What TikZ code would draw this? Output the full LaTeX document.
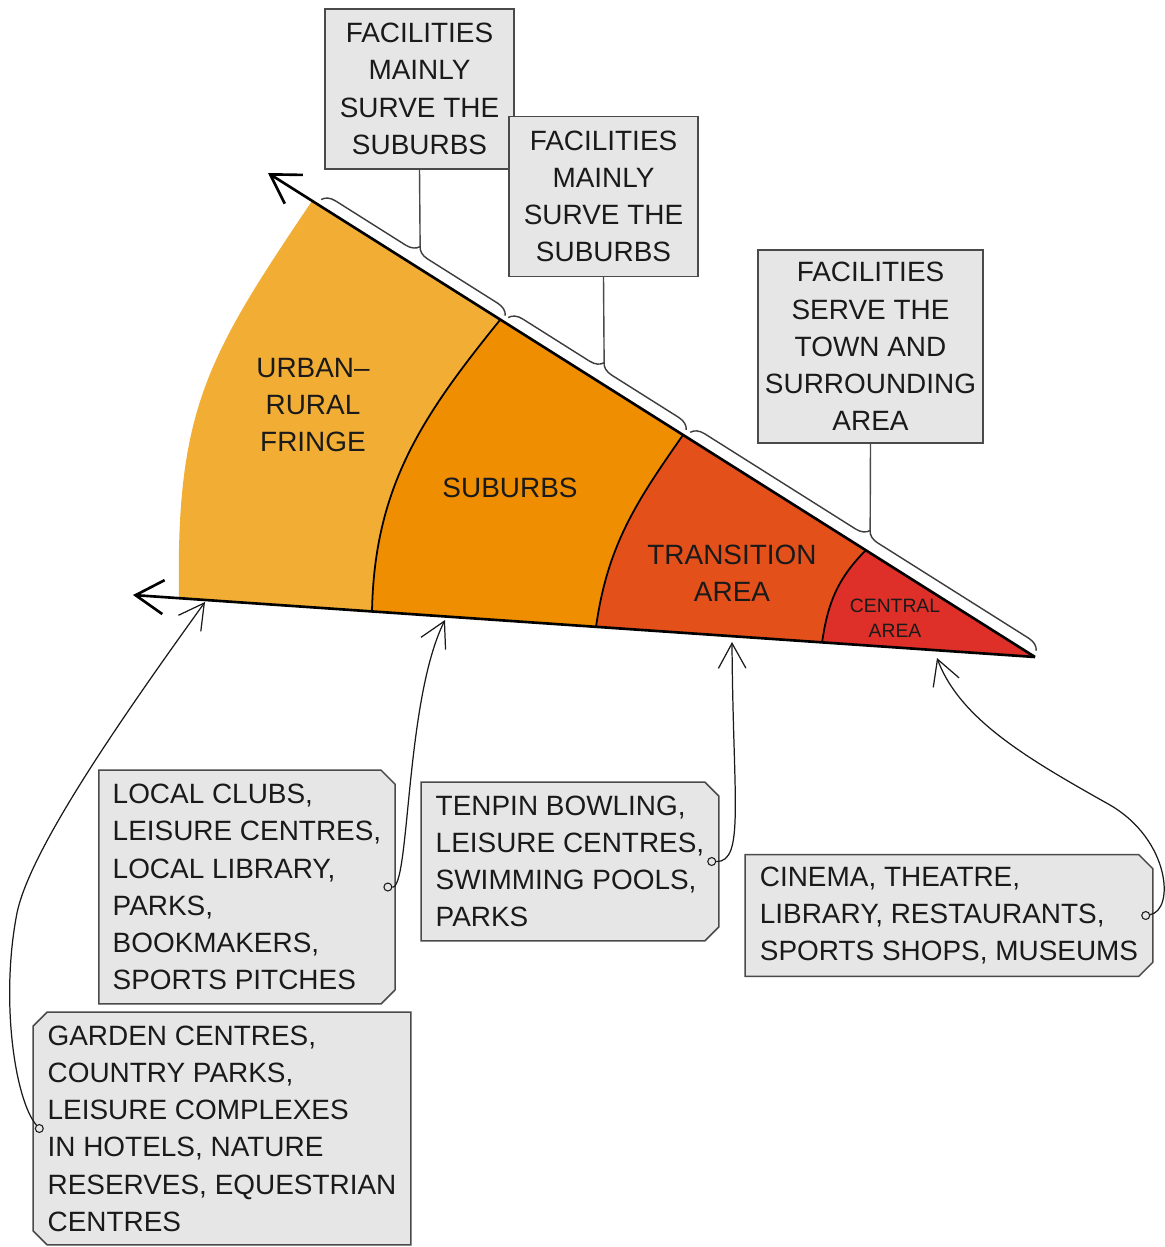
\documentclass[tikz,border=0pt]{standalone}
\usepackage{fontspec}
\setmainfont{Liberation Sans}
\usetikzlibrary{arrows.meta, positioning, calc, shapes.misc, decorations.pathreplacing}

\definecolor{fringecol}{HTML}{F2AE34}
\definecolor{suburbcol}{HTML}{EE8E00}
\definecolor{transcol}{HTML}{E4501A}
\definecolor{centralcol}{HTML}{DE3028}
\definecolor{boxfill}{HTML}{E6E6E6}
\definecolor{boxline}{HTML}{4A4A4A}
\definecolor{ink}{HTML}{1A1A1A}

\newcommand\listfont{\fontsize{15.9}{21.2}\selectfont}
\newcommand\smallzonefont{\fontsize{11}{14.2}\selectfont}

\begin{document}
\begin{tikzpicture}[
    x=0.02cm, y=0.02cm,
    zone/.style={font=\listfont, text=ink, align=center},
    notebox/.style={draw=boxline, fill=boxfill, line width=0.85pt, font=\listfont, text=ink, align=center, minimum width=3.78cm, minimum height=3.2cm},
    listbox/.style={chamfered rectangle, chamfered rectangle xsep=0.16cm, draw=boxline, fill=boxfill, line width=0.85pt, font=\listfont, text=ink, align=left},
    tagdot/.style={circle, draw=ink, fill=boxfill, line width=0.6pt, inner sep=1.6pt},
    fanedge/.style={line width=1.5pt, -{Straight Barb[length=0.56cm, width=0.68cm]}},
    ring/.style={line width=1pt},
    pointer/.style={draw=ink, line width=0.7pt, -{Straight Barb[length=0.5cm, width=0.55cm]}},
    stem/.style={draw=boxline, line width=0.8pt},
    bracket/.style={draw=ink!85, line width=0.8pt, decorate, decoration={brace, amplitude=0.26cm, raise=0.12cm}}
]
\fill[white] (0,0) rectangle (1164,-1247);
\useasboundingbox (0,0) rectangle (1164,-1247);

% fan corners
\coordinate (apex) at (1035,-657);
\coordinate (toptip) at (268,-173);
\coordinate (bottip) at (133,-595);
\coordinate (t0) at (312,-201);
\coordinate (b0) at (179,-599);
\coordinate (t1) at (500,-320);
\coordinate (b1) at (372,-612);
\coordinate (t2) at (683,-435);
\coordinate (b2) at (596,-627);
\coordinate (t3) at (866,-550);
\coordinate (b3) at (822,-643);

% zones, outer one first
\fill[fringecol] (t0) to[out=236, in=91, looseness=1.15] (b0) -- (apex) -- cycle;
\fill[suburbcol] (t1) to[out=231, in=89] (b1) -- (apex) -- cycle;
\fill[transcol] (t2) to[out=235, in=82] (b2) -- (apex) -- cycle;
\fill[centralcol] (t3) to[out=225, in=82] (b3) -- (apex) -- cycle;
\draw[ring] (t1) to[out=231, in=89] (b1);
\draw[ring] (t2) to[out=235, in=82] (b2);
\draw[ring] (t3) to[out=225, in=82] (b3);
\draw[fanedge] (apex) -- (toptip);
\draw[fanedge] (apex) -- (bottip);

\node[zone] (fringe) at (313,-405) {URBAN–\\RURAL\\FRINGE};
\node[zone] (suburbs) at (510,-488) {SUBURBS};
\node[zone] (transition) at (732,-573) {TRANSITION\\AREA};
\node[zone, font=\smallzonefont] (central) at (895,-618) {CENTRAL\\AREA};

% braces on the upper edge
\coordinate (s1a) at (318,-204.6);
\coordinate (s1b) at (502,-320.7);
\coordinate (s2a) at (505,-322.6);
\coordinate (s2b) at (683,-434.9);
\coordinate (s3a) at (687,-437.4);
\coordinate (s3b) at (1033,-655.7);
\draw[bracket] (s1a) -- (s1b);
\draw[bracket] (s2a) -- (s2b);
\draw[bracket] (s3a) -- (s3b);
\coordinate (tip1) at ($(s1a)!0.5!(s1b)!0.38cm!90:(s1b)$);
\coordinate (tip2) at ($(s2a)!0.5!(s2b)!0.38cm!90:(s2b)$);
\coordinate (tip3) at ($(s3a)!0.5!(s3b)!0.38cm!90:(s3b)$);

% notes above
\node[notebox] (suburbnote1) at (419.5,-89) {FACILITIES\\MAINLY\\SURVE THE\\SUBURBS};
\node[notebox] (suburbnote2) at (603.5,-196.5) {FACILITIES\\MAINLY\\SURVE THE\\SUBURBS};
\node[notebox, minimum width=4.5cm, minimum height=3.86cm] (townnote) at (870.5,-346.5) {FACILITIES\\SERVE THE\\TOWN AND\\SURROUNDING\\AREA};
\draw[stem] (suburbnote1.south) -- (tip1);
\draw[stem] (suburbnote2.south) -- (tip2);
\draw[stem] (townnote.south) -- (tip3);

% lists below
\node[listbox, minimum width=5.84cm, minimum height=4.68cm, chamfered rectangle corners={north east, south east}] (suburblist) at (247,-887) {LOCAL CLUBS,\\LEISURE CENTRES,\\LOCAL LIBRARY,\\PARKS,\\BOOKMAKERS,\\SPORTS PITCHES};
\node[listbox, minimum width=7.56cm, minimum height=4.66cm, chamfered rectangle corners={north west, south west}] (fringelist) at (222,-1128.5) {GARDEN CENTRES,\\COUNTRY PARKS,\\LEISURE COMPLEXES\\IN HOTELS, NATURE\\RESERVES, EQUESTRIAN\\CENTRES};
\node[listbox, minimum width=5.96cm, minimum height=3.18cm, chamfered rectangle corners={north east, south east}] (transitionlist) at (570,-861.5) {TENPIN BOWLING,\\LEISURE CENTRES,\\SWIMMING POOLS,\\PARKS};
\node[listbox, minimum width=8.16cm, minimum height=2.42cm, chamfered rectangle corners={north east, south east}] (centrallist) at (949,-915.5) {CINEMA, THEATRE,\\LIBRARY, RESTAURANTS,\\SPORTS SHOPS, MUSEUMS};

\node[tagdot] (fringedot) at ([xshift=0.14cm]fringelist.west) {};
\node[tagdot] (suburbdot) at ([xshift=-0.16cm]suburblist.east) {};
\node[tagdot] (transitiondot) at ([xshift=-0.16cm]transitionlist.east) {};
\node[tagdot] (centraldot) at ([xshift=-0.16cm]centrallist.east) {};

\coordinate (fringeend) at (205,-602);
\coordinate (suburbend) at (445,-620);
\coordinate (transend) at (732,-642);
\coordinate (centralend) at (937,-658);

\draw[pointer] (fringedot) .. controls (15,-1100) and (0,-1000) .. (17,-913) .. controls (30,-850) and (120,-720) .. (fringeend);
\draw[pointer] (suburbdot) .. controls (410,-888) and (405,-700) .. (suburbend);
\draw[pointer] (transitiondot) .. controls (745,-862) and (733,-800) .. (transend);
\draw[pointer] (centraldot) .. controls (1175,-910) and (1170,-840) .. (1110,-805) .. controls (1030,-760) and (960,-720) .. (centralend);

\end{tikzpicture}
\end{document}
